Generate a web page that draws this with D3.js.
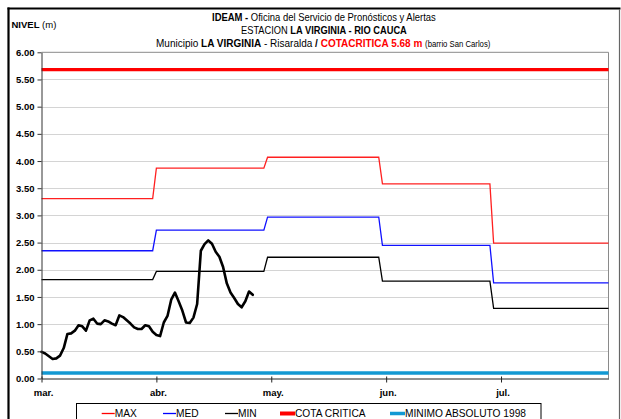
<!DOCTYPE html>
<html>
<head>
<meta charset="utf-8">
<script src="https://cdn.jsdelivr.net/npm/d3@7"></script>
<style>
  html, body { margin: 0; padding: 0; background: #fff; }
  svg { display: block; font-family: "Liberation Sans", Arial, sans-serif; }
</style>
</head>
<body>
<svg id="chart" width="621" height="419"></svg>
<script>
// ---------------- DATA ----------------
const startDay = "2011-03-01";
const nivel = [0.49, 0.46, 0.41, 0.36, 0.37, 0.42, 0.56, 0.82, 0.83, 0.88,
               0.98, 0.96, 0.88, 1.07, 1.10, 1.01, 1.00, 1.07, 1.05, 1.01,
               0.98, 1.16, 1.13, 1.07, 1.01, 0.94, 0.91, 0.91, 0.98, 0.96,
               0.86, 0.80, 0.78, 1.03, 1.15, 1.45, 1.58, 1.42, 1.25, 1.03,
               1.02, 1.12, 1.37, 2.35, 2.47, 2.54, 2.48, 2.33, 2.24, 2.05,
               1.75, 1.58, 1.48, 1.37, 1.31, 1.42, 1.60, 1.54];
const months = ["2011-03-01", "2011-04-01", "2011-05-01", "2011-06-01", "2011-07-01"];
const axisEnd = "2011-08-01";
const maxVals = [3.31, 3.87, 4.07, 3.58, 2.49];
const medVals = [2.35, 2.73, 2.97, 2.45, 1.76];
const minVals = [1.82, 1.97, 2.23, 1.79, 1.29];
const cotaCritica = 5.68;
const minimoAbsoluto = 0.10;
const tickDates = ["2011-03-01", "2011-04-01", "2011-05-02", "2011-06-02", "2011-07-03"];
const tickLabels = ["mar.", "abr.", "may.", "jun.", "jul."];
const yTicks = [0, 0.5, 1, 1.5, 2, 2.5, 3, 3.5, 4, 4.5, 5, 5.5, 6];
const legendItems = [
  {name: "MAX", color: "#ff0000", w: 1.3},
  {name: "MED", color: "#0000ff", w: 1.3},
  {name: "MIN", color: "#000000", w: 1.3},
  {name: "COTA CRITICA", color: "#ff0000", w: 4},
  {name: "MINIMO ABSOLUTO 1998", color: "#1399d3", w: 3.5}
];

// ---------------- LAYOUT ----------------
const svg = d3.select("#chart");
const L = 41.5, R = 608.5, T = 52.3, B = 378.5;
const parse = d3.utcParse("%Y-%m-%d");
const DAY = 864e5;
const x = d3.scaleUtc().domain([parse(startDay), parse(axisEnd)]).range([L, R]);
const y = d3.scaleLinear().domain([0, 6]).range([B, T]);

// outer frame
svg.append("line").attr("x1", 8.5).attr("x2", 8.5).attr("y1", 7.5).attr("y2", 419)
  .attr("stroke", "#000").attr("stroke-width", 2.2);
svg.append("line").attr("x1", 7.5).attr("x2", 620.5).attr("y1", 8.5).attr("y2", 8.5)
  .attr("stroke", "#000").attr("stroke-width", 2.2);
svg.append("line").attr("x1", 619.5).attr("x2", 619.5).attr("y1", 9).attr("y2", 419)
  .attr("stroke", "#666").attr("stroke-width", 1.2);

// gridlines
svg.append("g").selectAll("line").data(yTicks.filter(v => v > 0 && v < 6)).join("line")
  .attr("x1", L).attr("x2", R)
  .attr("y1", d => Math.round(y(d)) + 0.5).attr("y2", d => Math.round(y(d)) + 0.5)
  .attr("stroke", "#a8a8a8").attr("stroke-width", 1).attr("stroke-dasharray", "1,1");

// plot border (top/right)
svg.append("path")
  .attr("d", `M${L},${T}H${R}V${B}`)
  .attr("fill", "none").attr("stroke", "#8a8a8a").attr("stroke-width", 1);

// step series
function stepPoints(vals) {
  const pts = [];
  vals.forEach((v, i) => {
    const s = parse(months[i]);
    const e = i < vals.length - 1 ? new Date(parse(months[i + 1]) - DAY) : parse(axisEnd);
    pts.push([s, v], [e, v]);
  });
  return pts;
}
const line = d3.line().x(d => x(d[0])).y(d => y(d[1]));
[[maxVals, "#ff2020"], [medVals, "#1010ff"], [minVals, "#000"]].forEach(([vals, c]) => {
  svg.append("path").datum(stepPoints(vals)).attr("d", line)
    .attr("fill", "none").attr("stroke", c).attr("stroke-width", 1.3);
});

// cota critica & minimo absoluto
svg.append("path").datum([[parse(startDay), cotaCritica], [parse(axisEnd), cotaCritica]])
  .attr("d", line).attr("stroke", "#ff0000").attr("stroke-width", 3.2).attr("fill", "none");
svg.append("path").datum([[parse(startDay), minimoAbsoluto], [parse(axisEnd), minimoAbsoluto]])
  .attr("d", line).attr("stroke", "#1399d3").attr("stroke-width", 3.4).attr("fill", "none");

// observed level
const obs = nivel.map((v, i) => [new Date(+parse(startDay) + i * DAY), v]);
svg.append("path").datum(obs)
  .attr("d", d3.line().x(d => x(d[0])).y(d => y(d[1])).curve(d3.curveLinear))
  .attr("fill", "none").attr("stroke", "#000").attr("stroke-width", 2.6)
  .attr("stroke-linejoin", "round").attr("stroke-linecap", "round");

// y axis
const yAxis = svg.append("g").attr("transform", `translate(${L},0)`)
  .call(d3.axisLeft(y).tickValues(yTicks).tickFormat(d3.format(".2f")).tickSize(4).tickSizeOuter(0));
yAxis.select(".domain").attr("stroke", "#333");
yAxis.selectAll(".tick line").attr("stroke", "#333");
yAxis.selectAll(".tick text").attr("x", -7).attr("dy", "0.33em")
  .attr("font-size", 9.5).attr("font-weight", "bold").attr("fill", "#000")
  .attr("font-family", "'Liberation Sans', Arial, sans-serif");

// x axis
const xAxis = svg.append("g").attr("transform", `translate(0,${B})`)
  .call(d3.axisBottom(x).tickValues(tickDates.map(parse))
    .tickFormat((d, i) => tickLabels[i]).tickSize(4).tickSizeOuter(0));
xAxis.select(".domain").attr("stroke", "#222");
xAxis.selectAll(".tick line").attr("y1", -2).attr("y2", 4).attr("stroke", "#222");
xAxis.selectAll(".tick text").attr("y", 17.5).attr("dy", 0).attr("dx", 1.5)
  .attr("font-size", 9.5).attr("font-weight", "bold").attr("fill", "#000")
  .attr("font-family", "'Liberation Sans', Arial, sans-serif");

// y label
const yl = svg.append("text").attr("x", 11.5).attr("y", 28.3).attr("font-size", 9.5);
yl.append("tspan").attr("font-weight", "bold").text("NIVEL");
yl.append("tspan").text(" (m)");

// titles (condensed by horizontal scaling to match the narrow face)
function fitTitle(sel, x0, y0, targetW) {
  const w = sel.node().getComputedTextLength();
  const k = targetW / w;
  sel.attr("x", 0).attr("y", 0).attr("transform", `translate(${x0},${y0}) scale(${k},1)`);
}
const t1 = svg.append("text").attr("font-size", 11);
t1.append("tspan").attr("font-weight", "bold").text("IDEAM - ");
t1.append("tspan").text("Oficina del Servicio de Pronósticos y Alertas");
fitTitle(t1, 212, 20.8, 224);

const t2 = svg.append("text").attr("font-size", 11);
t2.append("tspan").text("ESTACION ");
t2.append("tspan").attr("font-weight", "bold").text("LA VIRGINIA - RIO CAUCA");
fitTitle(t2, 241, 33.8, 166);

const t3 = svg.append("text").attr("font-size", 11);
t3.append("tspan").text("Municipio ");
t3.append("tspan").attr("font-weight", "bold").text("LA VIRGINIA");
t3.append("tspan").text(" - Risaralda  ");
t3.append("tspan").attr("font-weight", "bold").text("/  ");
t3.append("tspan").attr("font-weight", "bold").attr("fill", "#ff0000").text("COTACRITICA 5.68 m ");
t3.append("tspan").attr("font-size", 8.5).text("(barrio San Carlos)");
fitTitle(t3, 156, 46.8, 335);

// legend
svg.append("rect").attr("x", 76.5).attr("y", 403.5).attr("width", 464.5).attr("height", 30)
  .attr("fill", "none").attr("stroke", "#000").attr("stroke-width", 1);
const legX = [101.7, 163, 225, 280, 390];
const leg = svg.append("g").selectAll("g").data(legendItems).join("g")
  .attr("transform", (d, i) => `translate(${legX[i]},0)`);
leg.append("line").attr("x1", 0).attr("x2", d => d.w > 2 ? 15 : 13).attr("y1", 413.5).attr("y2", 413.5)
  .attr("stroke", d => d.color).attr("stroke-width", d => d.w);
leg.append("text").attr("x", d => d.w > 2 ? 15 : 13).attr("y", 417.3).attr("font-size", 10.2)
  .text(d => d.name);
</script>
</body>
</html>
